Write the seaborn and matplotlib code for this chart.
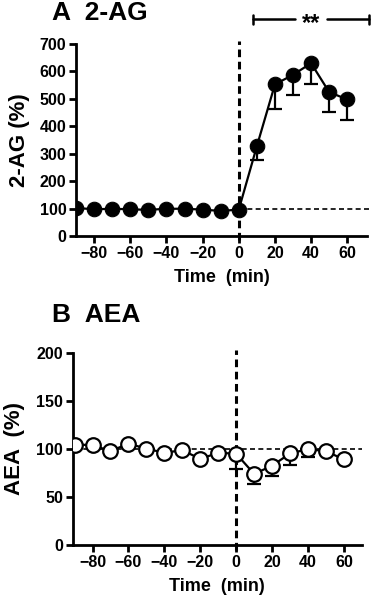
import matplotlib
matplotlib.use("Agg")
import matplotlib.pyplot as plt
import seaborn as sns
import numpy as np
import pandas as pd

sns.set_style("ticks")
plt.rcParams['font.family'] = ['Liberation Sans', 'DejaVu Sans']
plt.rcParams['font.weight'] = 'bold'
plt.rcParams['text.color'] = 'black'
plt.rcParams['axes.labelcolor'] = 'black'
plt.rcParams['xtick.color'] = 'black'
plt.rcParams['ytick.color'] = 'black'

time_min = [-90, -80, -70, -60, -50, -40, -30, -20, -10, 0, 10, 20, 30, 40, 50, 60]
ag2_pct = [103, 98, 100, 98, 96, 100, 100, 97, 92, 97, 328, 553, 588, 630, 525, 498]
ag2_err = [0, 0, 0, 0, 0, 0, 0, 0, 0, 0, 52, 90, 74, 75, 73, 75]
aea_pct = [104.5, 104, 97.7, 105.5, 100.3, 96, 98.7, 89.6, 96, 95, 74, 82.5, 95.3, 99.8, 97.7, 89]
aea_err = [0, 0, 0, 0, 0, 0, 0, 0, 0, 16, 11, 10.5, 12, 8, 0, 0]

x_ticks = [-80, -60, -40, -20, 0, 20, 40, 60]

fig = plt.figure(figsize=(3.75, 5.95), dpi=100)
axA = fig.add_axes([0.203, 0.603, 0.776, 0.323])
axB = fig.add_axes([0.194, 0.084, 0.771, 0.323])

def style(ax, ylim, yticks, xlim):
    ax.set_xlim(*xlim)
    ax.set_ylim(*ylim)
    ax.set_yticks(yticks)
    ax.set_xticks(x_ticks)
    for s in ['top', 'right']:
        ax.spines[s].set_visible(False)
    for s in ['left', 'bottom']:
        ax.spines[s].set_linewidth(2)
        ax.spines[s].set_color('black')
    ax.tick_params(width=2, length=5, labelsize=11.5, colors='black', pad=2)
    for lab in ax.get_xticklabels() + ax.get_yticklabels():
        lab.set_fontweight('bold')
    ax.set_xlabel('Time  (min)', fontsize=13, fontweight='bold', labelpad=6)

# Panel A
dfA = pd.DataFrame({'t': time_min, 'v': ag2_pct})
axA.errorbar(time_min, ag2_pct, yerr=[ag2_err, [0]*len(ag2_err)], fmt='none',
             ecolor='black', elinewidth=1.6, capsize=5, capthick=1.6, zorder=2)
sns.lineplot(data=dfA, x='t', y='v', ax=axA, color='black', lw=1.6, marker='o',
             markersize=10.5, markerfacecolor='black', markeredgecolor='black', zorder=3)
axA.plot([0, 72], [100, 100], ls=(0, (3, 2)), color='black', lw=1.2, zorder=1, clip_on=False)
axA.plot([0, 0], [-12, 712], ls=(0, (2.5, 1.5)), color='black', lw=2.2, zorder=1, clip_on=False)
style(axA, (0, 700), [0, 100, 200, 300, 400, 500, 600, 700], (-90, 71))
axA.set_ylabel('2-AG (%)', fontsize=16, fontweight='bold', labelpad=7)
# significance bar
yb = 790
axA.plot([8, 31], [yb, yb], color='black', lw=1.8, clip_on=False)
axA.plot([49, 72], [yb, yb], color='black', lw=1.8, clip_on=False)
axA.plot([8, 8], [yb - 16, yb + 16], color='black', lw=1.8, clip_on=False)
axA.plot([72, 72], [yb - 16, yb + 16], color='black', lw=1.8, clip_on=False)
axA.text(40, yb - 16, '**', ha='center', va='center', fontsize=17, fontweight='bold')
fig.text(0.138, 0.978, 'A  2-AG', fontsize=19, fontweight='bold', ha='left', va='center')

# Panel B
dfB = pd.DataFrame({'t': time_min, 'v': aea_pct})
axB.errorbar(time_min, aea_pct, yerr=[aea_err, [0]*len(aea_err)], fmt='none',
             ecolor='black', elinewidth=1.6, capsize=5, capthick=1.6, zorder=2)
sns.lineplot(data=dfB, x='t', y='v', ax=axB, color='black', lw=1.6, marker='o',
             markersize=10.5, markerfacecolor='white', markeredgecolor='black',
             markeredgewidth=1.6, zorder=3)
axB.plot([-90, 70], [100, 100], ls=(0, (3, 2)), color='black', lw=1.2, zorder=1, clip_on=False)
axB.plot([0, 0], [-5, 203], ls=(0, (2.5, 1.5)), color='black', lw=2.2, zorder=1, clip_on=False)
style(axB, (0, 200), [0, 50, 100, 150, 200], (-91, 70))
axB.set_ylabel('AEA  (%)', fontsize=16, fontweight='bold', labelpad=8)
fig.text(0.138, 0.47, 'B  AEA', fontsize=19, fontweight='bold', ha='left', va='center')

fig.savefig('out.png', dpi=100)
